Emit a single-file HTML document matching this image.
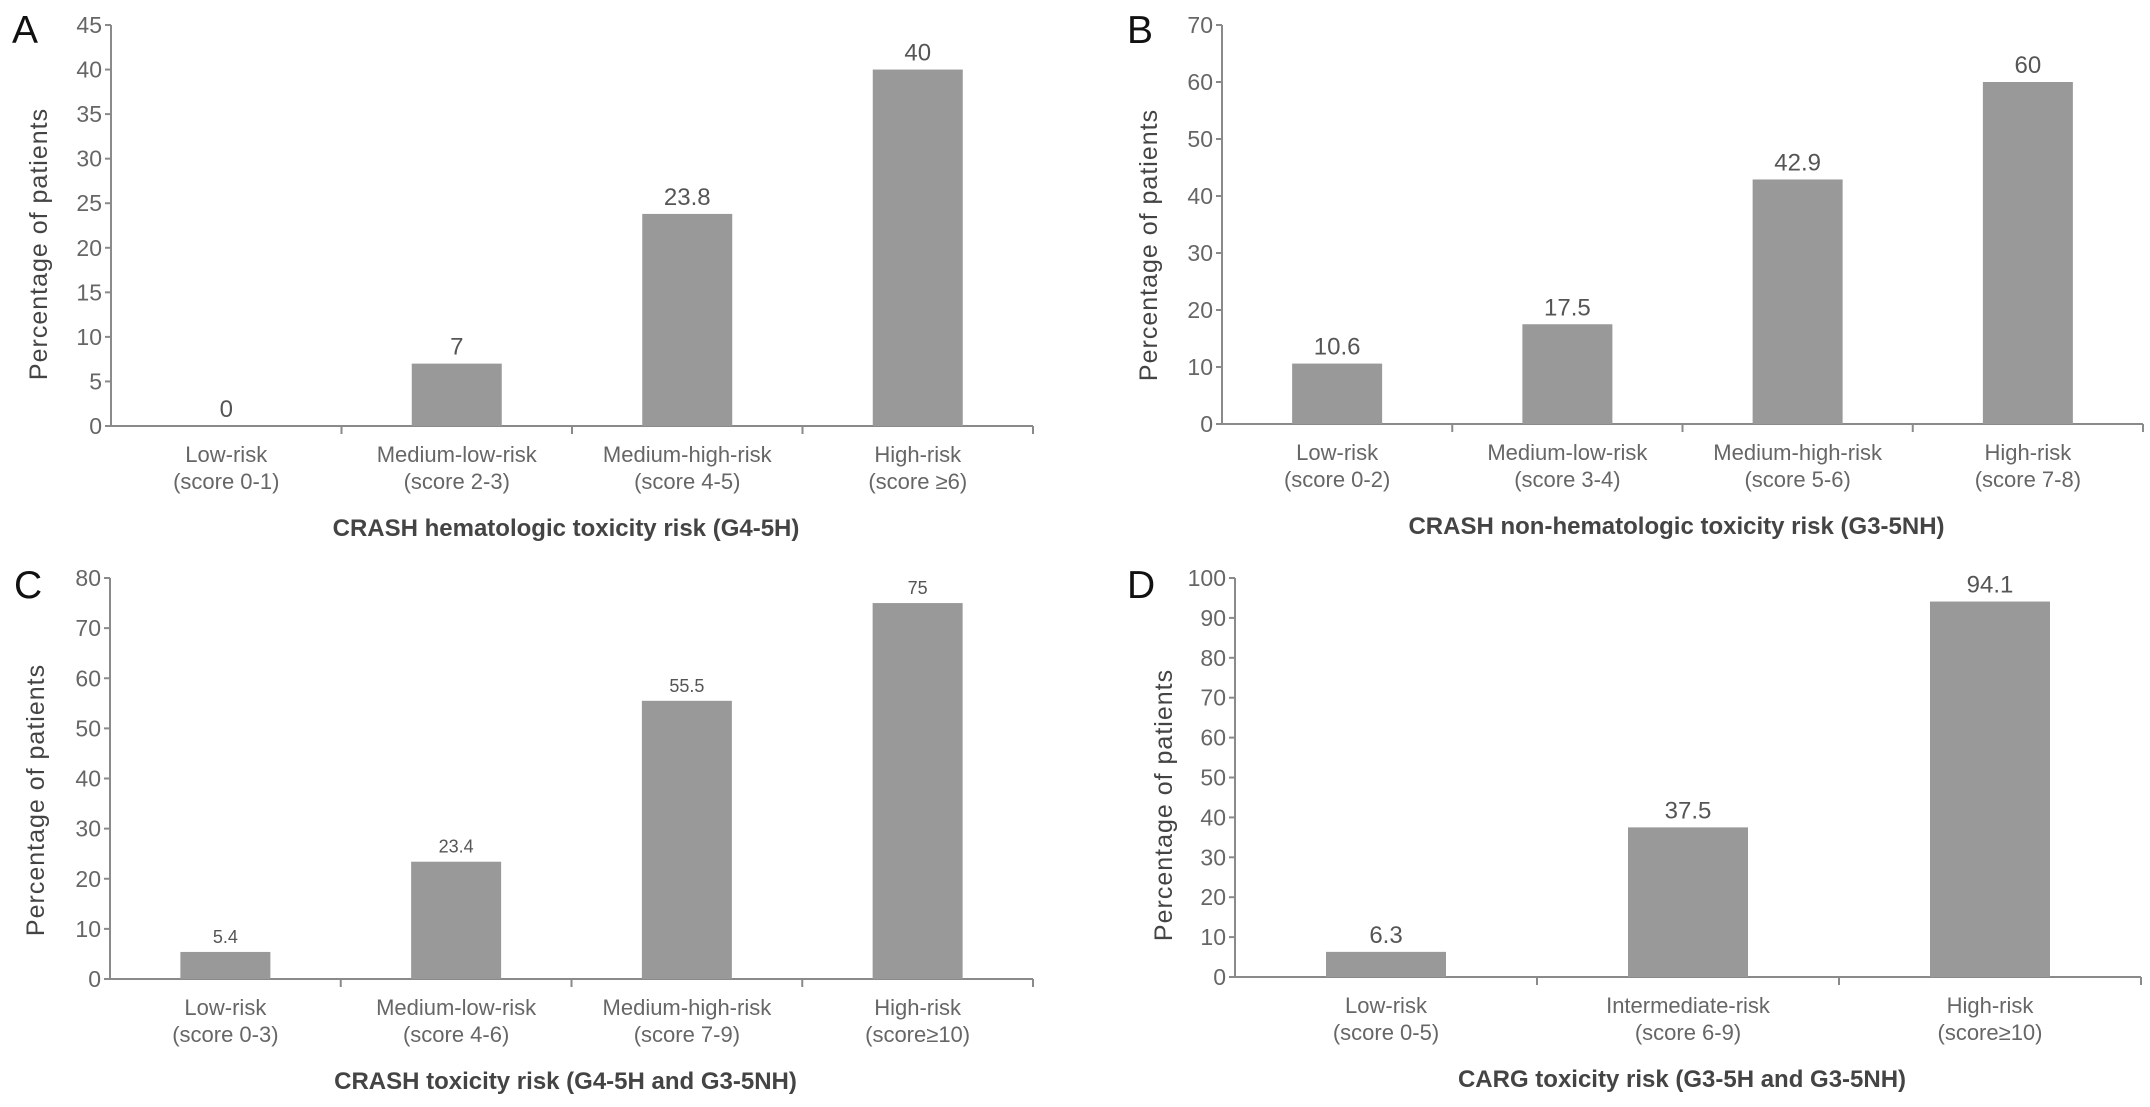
<!DOCTYPE html>
<html><head><meta charset="utf-8"><style>
html,body{margin:0;padding:0;background:#fff;}
svg{display:block;font-family:"Liberation Sans",Arial,sans-serif;}
</style></head><body>
<svg id="fig" width="2150" height="1107" viewBox="0 0 2150 1107"></svg>
<script>
const catsA=[["Low-risk","(score 0-1)"],["Medium-low-risk","(score 2-3)"],["Medium-high-risk","(score 4-5)"],["High-risk","(score ≥6)"]];
const valsA=[0,7,23.8,40];
const labelsA=["0","7","23.8","40"];
const ticksA=[0,5,10,15,20,25,30,35,40,45];
const catsB=[["Low-risk","(score 0-2)"],["Medium-low-risk","(score 3-4)"],["Medium-high-risk","(score 5-6)"],["High-risk","(score 7-8)"]];
const valsB=[10.6,17.5,42.9,60];
const labelsB=["10.6","17.5","42.9","60"];
const ticksB=[0,10,20,30,40,50,60,70];
const catsC=[["Low-risk","(score 0-3)"],["Medium-low-risk","(score 4-6)"],["Medium-high-risk","(score 7-9)"],["High-risk","(score≥10)"]];
const valsC=[5.4,23.4,55.5,75];
const labelsC=["5.4","23.4","55.5","75"];
const ticksC=[0,10,20,30,40,50,60,70,80];
const catsD=[["Low-risk","(score 0-5)"],["Intermediate-risk","(score 6-9)"],["High-risk","(score≥10)"]];
const valsD=[6.3,37.5,94.1];
const labelsD=["6.3","37.5","94.1"];
const ticksD=[0,10,20,30,40,50,60,70,80,90,100];

const NS="http://www.w3.org/2000/svg";
const svg=document.getElementById('fig');
function mk(tag,attrs,parent,txt){const e=document.createElementNS(NS,tag);for(const k in attrs)e.setAttribute(k,attrs[k]);if(txt!==undefined)e.textContent=txt;(parent||svg).appendChild(e);return e;}

function panel(o){
  const g=mk('g',{});
  
  
  const maxV=o.ticks[o.ticks.length-1];
  const n=o.cats.length;
  const step=(o.axEnd-o.ax)/n;
  const y=v=>o.y0-(v/maxV)*(o.y0-o.yTop);
  const x=i=>o.ax+(i+0.5)*step;
  const L=mk('text',{x:o.lx,y:o.ly,'font-size':39,fill:'#111'},g,o.id);
  
  
  const ya=mk('line',{x1:o.ax,y1:o.yTop,x2:o.ax,y2:o.y0,stroke:'#8a8a8a','stroke-width':2},g);
  
  
  o.ticks.forEach(t=>{
    mk('line',{x1:o.ax-6,y1:y(t),x2:o.ax,y2:y(t),stroke:'#8a8a8a','stroke-width':2},g);
    const tl=mk('text',{x:o.ax-9,y:y(t)+8,'font-size':23,fill:'#666','text-anchor':'end'},g,String(t));
    
    
  });
  const xa=mk('line',{x1:o.ax,y1:o.y0,x2:o.axEnd,y2:o.y0,stroke:'#8a8a8a','stroke-width':2},g);
  
  
  for(let i=1;i<=n;i++){
    const tx=o.ax+i*step;
    mk('line',{x1:tx,y1:o.y0,x2:tx,y2:o.y0+8,stroke:'#8a8a8a','stroke-width':2},g);
  }
  o.vals.forEach((v,i)=>{
    const b=mk('rect',{x:x(i)-o.bw/2,y:y(v),width:o.bw,height:o.y0-y(v),fill:'#999'},g);
    
    
    const vl=mk('text',{x:x(i),y:y(v)-9,'font-size':o.vfs,fill:'#555','text-anchor':'middle'},g,o.labels[i]);
    
    
    const c1=mk('text',{x:x(i),y:o.y0+36,'font-size':22,fill:'#666','text-anchor':'middle'},g,o.cats[i][0]);
    
    
    const c2=mk('text',{x:x(i),y:o.y0+63,'font-size':22,fill:'#666','text-anchor':'middle'},g,o.cats[i][1]);
    
    
  });
  const xt=mk('text',{x:(o.ax+o.axEnd)/2-6,y:o.y0+110,'font-size':24,'font-weight':'bold',fill:'#444','text-anchor':'middle'},g,o.title);
  
  
  const yt=mk('text',{x:0,y:0,'font-size':25,fill:'#444','text-anchor':'middle','letter-spacing':'1',transform:`translate(${o.ytx},${o.yty}) rotate(-90)`},g,'Percentage of patients');
  
  
}
panel({id:'A',title:'CRASH hematologic toxicity risk (G4-5H)',cats:catsA,vals:valsA,labels:labelsA,ticks:ticksA,ax:111,axEnd:1033,y0:426,yTop:25,bw:90,lx:12,ly:43,ytx:47,yty:244,vfs:24});
panel({id:'B',title:'CRASH non-hematologic toxicity risk (G3-5NH)',cats:catsB,vals:valsB,labels:labelsB,ticks:ticksB,ax:1222,axEnd:2143,y0:424,yTop:25,bw:90,lx:1127,ly:43,ytx:1157,yty:245,vfs:24});
panel({id:'C',title:'CRASH toxicity risk (G4-5H and G3-5NH)',cats:catsC,vals:valsC,labels:labelsC,ticks:ticksC,ax:110,axEnd:1033,y0:979,yTop:578,bw:90,lx:14,ly:598,ytx:44,yty:800,vfs:18});
panel({id:'D',title:'CARG toxicity risk (G3-5H and G3-5NH)',cats:catsD,vals:valsD,labels:labelsD,ticks:ticksD,ax:1235,axEnd:2141,y0:977,yTop:578,bw:120,lx:1127,ly:598,ytx:1172,yty:805,vfs:24});
</script>
</body></html>
